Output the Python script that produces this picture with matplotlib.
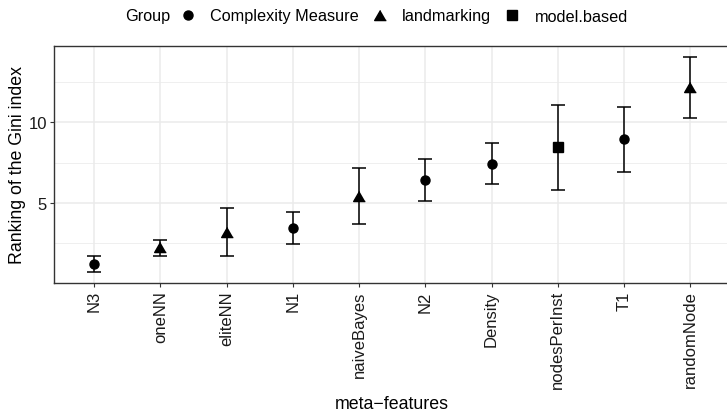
import matplotlib
matplotlib.use('Agg')
import matplotlib.pyplot as plt
from matplotlib.lines import Line2D
import numpy as np

plt.rcParams['font.family'] = ['Liberation Sans', 'DejaVu Sans']

features = ['N3', 'oneNN', 'eliteNN', 'N1', 'naiveBayes', 'N2', 'Density',
            'nodesPerInst', 'T1', 'randomNode']
groups = ['Complexity Measure', 'landmarking', 'landmarking', 'Complexity Measure',
          'landmarking', 'Complexity Measure', 'Complexity Measure', 'model.based',
          'Complexity Measure', 'landmarking']
mean_rank = [1.19, 2.25, 3.22, 3.43, 5.45, 6.40, 7.39, 8.45, 8.97, 12.22]
lower = [0.70, 1.69, 1.69, 2.44, 3.72, 5.14, 6.15, 5.78, 6.94, 10.29]
upper = [1.71, 2.71, 4.69, 4.46, 7.17, 7.73, 8.72, 11.08, 10.93, 14.07]

group_names = ['Complexity Measure', 'landmarking', 'model.based']
tri = [(0, 0.433), (-0.5, -0.433), (0.5, -0.433)]
markers = {'Complexity Measure': ('o', 6.5), 'landmarking': (tri, 8.4),
           'model.based': ('s', 7.2)}

W, H = 727, 414
fig = plt.figure(figsize=(W / 100, H / 100), dpi=100)
ax = fig.add_axes([54.3 / W, 1 - 284 / H, (730 - 54.3) / W, (284 - 47) / H])

x = np.arange(len(features))
mean_rank = np.array(mean_rank)
yerr = [mean_rank - np.array(lower), np.array(upper) - mean_rank]
ax.errorbar(x, mean_rank, yerr=yerr, fmt='none', ecolor='black',
            elinewidth=1.1, capsize=4.8, capthick=1.1, zorder=3)

for g in group_names:
    idx = [i for i, gg in enumerate(groups) if gg == g]
    m, s = markers[g]
    ax.plot(x[idx], mean_rank[idx], linestyle='none', marker=m, markersize=s,
            color='black', zorder=4)

ax.set_xlim(-0.6, 9.6)
ax.set_ylim(0.03, 14.74)
ax.set_xticks(x)
ax.set_xticklabels(features, rotation=90)
ax.set_yticks([5, 10])
ax.set_yticks([2.5, 7.5, 12.5], minor=True)
ax.grid(True, which='major', color='#EBEBEB', linewidth=1.1, zorder=0)
ax.grid(True, which='minor', axis='y', color='#EBEBEB', linewidth=0.55, zorder=0)
ax.set_axisbelow(True)
ax.tick_params(which='major', length=2.7, width=0.8, color='#333333',
               labelsize=12, labelcolor='#1a1a1a', pad=2.5)
ax.tick_params(which='minor', length=0)
for sp in ax.spines.values():
    sp.set_color('#333333')
    sp.set_linewidth(1.0)

ax.set_xlabel('meta\u2212features', fontsize=12.8, labelpad=4.5)
ax.set_ylabel('Ranking of the Gini index', fontsize=12.8, labelpad=2)

handles = [Line2D([], [], linestyle='none', marker=markers[g][0],
                  markersize=markers[g][1], color='black') for g in group_names]
fig.text(125 / W, 1 - 17 / H, 'Group', fontsize=11.7, ha='left', va='center')
fig.legend(handles, group_names, ncol=3, loc='center left',
           bbox_to_anchor=(180 / W, 1 - 17 / H), frameon=False, fontsize=11.7,
           handlelength=1.0, handletextpad=0.86, columnspacing=0.8,
           borderpad=0, borderaxespad=0)

fig.savefig('out.png', dpi=100)
